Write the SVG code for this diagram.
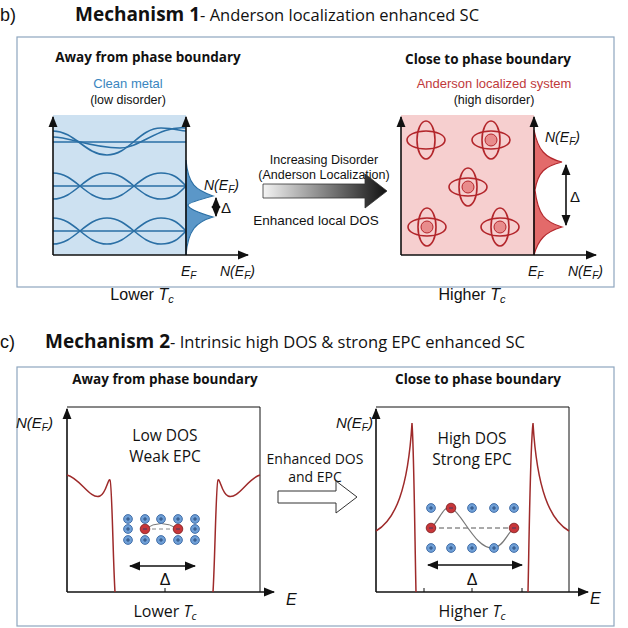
<svg xmlns="http://www.w3.org/2000/svg" width="628" height="628" viewBox="0 0 628 628">
<defs>
<style>
text{font-family:"Liberation Sans",Arial,sans-serif;fill:#111}
.h{font-family:"Open Sans","Liberation Sans",sans-serif;font-weight:bold;font-size:14.5px;text-anchor:middle}
.c{text-anchor:middle}
.s{font-size:12.5px}
.it{font-style:italic}
.ax{stroke:#111;stroke-width:1.6;fill:none}
.bw{stroke:#2a6fa5;stroke-width:1.6;fill:none}
.rd{stroke:#b3262b;stroke-width:1.6;fill:none}
.dos{stroke:#9e2a2a;stroke-width:1.5;fill:none}
.ion{fill:#6f9fd6;stroke:#2b5a9a;stroke-width:0.8}
.neg{fill:#c8363a;stroke:#7a1a1a;stroke-width:0.8}
.pl{stroke:#1e3f70;stroke-width:0.8}
.panel{fill:#fff;stroke:#8ea6bf;stroke-width:1.2}
.ob{font-family:"Open Sans","Liberation Sans",sans-serif}
</style>
<marker id="ah" viewBox="0 0 10 10" refX="9" refY="5" markerWidth="7" markerHeight="7" orient="auto-start-reverse"><path d="M0,1 L10,5 L0,9 z" fill="#111"/></marker>
<linearGradient id="gr" x1="0" x2="1" y1="0" y2="0"><stop offset="0" stop-color="#f4f4f4"/><stop offset="1" stop-color="#111"/></linearGradient>
<g id="orb"><ellipse rx="19" ry="9" class="rd"/><ellipse rx="9" ry="19" class="rd"/></g>
<g id="ip"><circle r="4.4" class="ion"/><path d="M-2,0H2M0,-2V2" class="pl"/></g>
<g id="in"><circle r="4.8" class="neg"/><path d="M-2,0H2" class="pl"/></g>
</defs>
<rect width="628" height="628" fill="#fff"/>
<g id="titles">
<text x="0" y="21" font-size="18">b)</text>
<text x="75" y="21" font-size="19" class="ob" font-weight="bold">Mechanism 1<tspan font-weight="normal" font-size="16.5">- Anderson localization enhanced SC</tspan></text>
<text x="0" y="348" font-size="18">c)</text>
<text x="45" y="348" font-size="19" class="ob" font-weight="bold">Mechanism 2<tspan font-weight="normal" font-size="16.5">- Intrinsic high DOS &amp; strong EPC  enhanced SC</tspan></text>
</g>
<rect class="panel" x="17" y="37" width="597" height="250"/>
<rect class="panel" x="17" y="367" width="597" height="259"/>
<g id="clean">
<text class="h" x="148" y="62" style="font-size:13.5px">Away from phase boundary</text>
<text class="c" x="128" y="88" font-size="13" style="fill:#3a86c0">Clean metal</text>
<text class="c s" x="128" y="104">(low disorder)</text>
<rect x="53" y="115" width="133" height="140" fill="#cde1f1"/>
<path class="bw" d="M53,142H186M53,186H186M53,231H186"/>
<path class="bw" d="M53,131C75,131 85,155 107,155C129,155 139,128 161,128C175,128 180,131 186,131"/>
<path class="bw" d="M53,137C70,137 90,148 120,148C140,148 160,125 186,128"/>
<path class="bw" d="M53,173C75,173 85,199 107,199C129,199 139,173 161,173C175,173 180,180 186,186"/>
<path class="bw" d="M53,199C75,199 85,173 107,173C129,173 139,199 161,199C175,199 180,192 186,186"/>
<path class="bw" d="M53,218C75,218 85,244 107,244C129,244 139,218 161,218C175,218 180,225 186,231"/>
<path class="bw" d="M53,244C75,244 85,218 107,218C129,218 139,244 161,244C175,244 180,237 186,231"/>
<path d="M186,160C188,185 196,190 213,196C198,200 188,203 188,205C188,208 196,212 213,217C196,222 188,230 186,255Z" fill="#5b97c8" stroke="#2a6fa5" stroke-width="1.2"/>
<path class="ax" d="M53,255V117" marker-end="url(#ah)"/>
<path class="ax" d="M186,255V117" marker-end="url(#ah)"/>
<path class="ax" d="M53,255H248" marker-end="url(#ah)"/>
<path class="ax" d="M216,198V216" marker-start="url(#ah)" marker-end="url(#ah)"/>
<text x="221" y="213" font-size="15" font-family="Liberation Serif">Δ</text>
<text x="204" y="190" font-size="14" class="it">N(E<tspan font-size="10" dy="3">F</tspan><tspan dy="-3">)</tspan></text>
<text x="181" y="276" font-size="14" class="it">E<tspan font-size="10" dy="3">F</tspan></text>
<text x="220" y="276" font-size="14" class="it">N(E<tspan font-size="10" dy="3">F</tspan><tspan dy="-3">)</tspan></text>
<text class="c" x="142" y="300" font-size="16">Lower <tspan class="it">T</tspan><tspan class="it" font-size="11" dy="3">c</tspan></text>
</g>
<g id="mid1">
<text class="c s" x="324" y="164">Increasing Disorder</text>
<text class="c s" x="324" y="179">(Anderson Localization)</text>
<path d="M263,184H365V174L387,191L365,208V198H263Z" fill="url(#gr)" stroke="#333" stroke-width="0.8"/>
<text class="c" x="316" y="225" font-size="13.5" font-family="Open Sans,Liberation Sans,sans-serif">Enhanced local DOS</text>
</g>
<g id="anderson">
<text class="h" x="488" y="64" style="font-size:13.5px">Close to phase boundary</text>
<text class="c" x="494" y="88" font-size="13" style="fill:#c0393b">Anderson localized system</text>
<text class="c s" x="494" y="104">(high disorder)</text>
<rect x="401" y="115" width="133" height="140" fill="#f6cfcf"/>
<use href="#orb" x="426" y="140"/>
<use href="#orb" x="491" y="140"/><circle cx="491" cy="140" r="6" fill="#e88c8c" stroke="#b3262b"/>
<use href="#orb" x="468" y="187"/><circle cx="468" cy="187" r="6" fill="#e88c8c" stroke="#b3262b"/>
<use href="#orb" x="427" y="227"/><circle cx="427" cy="227" r="6" fill="#e88c8c" stroke="#b3262b"/>
<use href="#orb" x="500" y="227"/><circle cx="500" cy="227" r="6" fill="#e88c8c" stroke="#b3262b"/>
<path d="M534,130C538,150 545,158 562,162C545,166 538,172 535,190C538,215 545,222 562,227C545,232 538,240 534,255Z" fill="#e36a6a" stroke="#b3262b" stroke-width="1.2"/>
<path class="ax" d="M401,255V117" marker-end="url(#ah)"/>
<path class="ax" d="M534,255V117" marker-end="url(#ah)"/>
<path class="ax" d="M401,255H596" marker-end="url(#ah)"/>
<path class="ax" d="M566,165V225" marker-start="url(#ah)" marker-end="url(#ah)"/>
<text x="570" y="202" font-size="15" font-family="Liberation Serif">Δ</text>
<text x="545" y="142" font-size="14" class="it">N(E<tspan font-size="10" dy="3">F</tspan><tspan dy="-3">)</tspan></text>
<text x="528" y="276" font-size="14" class="it">E<tspan font-size="10" dy="3">F</tspan></text>
<text x="568" y="276" font-size="14" class="it">N(E<tspan font-size="10" dy="3">F</tspan><tspan dy="-3">)</tspan></text>
<text class="c" x="472" y="300" font-size="16">Higher <tspan class="it">T</tspan><tspan class="it" font-size="11" dy="3">c</tspan></text>
</g>
<g id="lowdos">
<text class="h" x="165" y="384" style="font-size:13.5px">Away from phase boundary</text>
<path d="M67,407H260V592" fill="none" stroke="#111" stroke-width="1"/>
<path class="ax" d="M67,592V409" marker-end="url(#ah)"/>
<path class="ax" d="M67,592H274" marker-end="url(#ah)"/>
<path class="dos" d="M67,475C80,478 90,500 100,496C106,494 108,478 110,480C112,482 113,560 115,592"/>
<path class="dos" d="M213,592C215,560 216,482 218,480C220,478 222,494 228,496C238,500 248,478 260,475"/>
<text x="16" y="428" font-size="15" class="it">N(E<tspan font-size="10" dy="3">F</tspan><tspan dy="-3">)</tspan></text>
<text class="c ob" x="165" y="441" font-size="15.5">Low DOS</text>
<text class="c ob" x="165" y="462" font-size="15.5">Weak EPC</text>
<path d="M145,529Q161,518 178,529" fill="none" stroke="#777" stroke-width="1"/>
<path d="M145,529H178" stroke="#888" stroke-width="1" stroke-dasharray="4,3"/>
<use href="#ip" x="128" y="519"/><use href="#ip" x="145" y="519"/><use href="#ip" x="161" y="519"/><use href="#ip" x="178" y="519"/><use href="#ip" x="195" y="519"/>
<use href="#ip" x="128" y="529"/><use href="#in" x="145" y="529"/><use href="#in" x="178" y="529"/><use href="#ip" x="195" y="529"/>
<use href="#ip" x="128" y="540"/><use href="#ip" x="145" y="540"/><use href="#ip" x="161" y="540"/><use href="#ip" x="178" y="540"/><use href="#ip" x="195" y="540"/>
<path class="ax" d="M130,566H195" marker-start="url(#ah)" marker-end="url(#ah)"/>
<path d="M165,588V592" stroke="#111"/>
<text class="c" x="165" y="585" font-size="16" font-family="Liberation Serif">Δ</text>
<text class="c ob" x="165" y="617" font-size="16">Lower <tspan class="it">T</tspan><tspan class="it" font-size="11" dy="3">c</tspan></text>
<text x="286" y="605" font-size="16" class="it">E</text>
</g>
<g id="mid2">
<text class="c ob" x="315" y="464" font-size="14">Enhanced DOS</text>
<text class="c ob" x="315" y="482" font-size="14">and EPC</text>
<path d="M278,491H336V481L357,497L336,513V503H278Z" fill="#fff" stroke="#333" stroke-width="1"/>
</g>
<g id="highdos">
<text class="h" x="478" y="384" style="font-size:13.5px">Close to phase boundary</text>
<path d="M376,407H569V592" fill="none" stroke="#111" stroke-width="1"/>
<path class="ax" d="M376,592V409" marker-end="url(#ah)"/>
<path class="ax" d="M376,592H588" marker-end="url(#ah)"/>
<path class="dos" d="M376,531C395,520 408,490 412,423C414,450 415,550 416,592"/>
<path class="dos" d="M528,592C529,550 530,450 533,423C537,490 550,520 569,531"/>
<text x="336" y="428" font-size="15" class="it">N(E<tspan font-size="10" dy="3">F</tspan><tspan dy="-3">)</tspan></text>
<text class="c ob" x="472" y="444" font-size="15.5">High DOS</text>
<text class="c ob" x="472" y="465" font-size="15.5">Strong EPC</text>
<path d="M431,528H514" stroke="#555" stroke-width="1" stroke-dasharray="5,3"/>
<path d="M431,528C440,520 443,505 451,508C462,512 475,550 494,548C503,547 508,532 514,528" fill="none" stroke="#777" stroke-width="1.2"/>
<use href="#ip" x="431" y="508"/><use href="#in" x="451" y="508"/><use href="#ip" x="472" y="508"/><use href="#ip" x="494" y="508"/><use href="#ip" x="514" y="508"/>
<use href="#in" x="431" y="528"/><use href="#in" x="514" y="528"/>
<use href="#ip" x="431" y="548"/><use href="#ip" x="451" y="548"/><use href="#ip" x="472" y="548"/><use href="#ip" x="494" y="548"/><use href="#ip" x="514" y="548"/>
<path class="ax" d="M428,565H522" marker-start="url(#ah)" marker-end="url(#ah)"/>
<path d="M424,588V592M472,588V592M522,588V592" stroke="#111"/>
<text class="c" x="472" y="585" font-size="16" font-family="Liberation Serif">Δ</text>
<text class="c ob" x="472" y="617" font-size="16">Higher <tspan class="it">T</tspan><tspan class="it" font-size="11" dy="3">c</tspan></text>
<text x="590" y="604" font-size="16" class="it">E</text>
</g>
</svg>
